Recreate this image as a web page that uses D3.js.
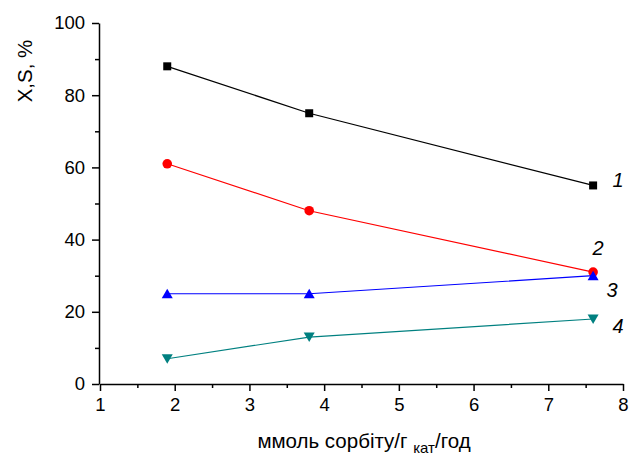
<!DOCTYPE html>
<html>
<head>
<meta charset="utf-8">
<script src="https://d3js.org/d3.v7.min.js"></script>
<style>
body { margin: 0; background: #fff; }
text { font-family: "Liberation Sans", Arial, sans-serif; }
</style>
</head>
<body>
<svg id="chart" width="630" height="455"></svg>
<script>
// data
const xs = [1.9, 3.8, 7.6];
const s1 = [88, 75, 55];
const s2 = [61, 48, 31];
const s3 = [25, 25, 30];
const s4 = [7, 13, 18];
const seriesNames = ["1", "2", "3", "4"];
const xTicks = [1, 2, 3, 4, 5, 6, 7, 8];
const yTicks = [0, 20, 40, 60, 80, 100];

const svg = d3.select("#chart");
const x = d3.scaleLinear().domain([1, 8]).range([100, 623]);
const y = d3.scaleLinear().domain([0, 100]).range([384, 23]);

// minor ticks
svg.append("g").attr("transform", "translate(0,384)")
  .call(d3.axisBottom(x).tickValues(d3.range(1.5, 8, 1)).tickSize(4).tickFormat(""))
  .call(g => g.select(".domain").remove());
svg.append("g").attr("transform", "translate(99,0)")
  .call(d3.axisLeft(y).tickValues(d3.range(10, 100, 20)).tickSize(4).tickFormat(""))
  .call(g => g.select(".domain").remove());

const xa = svg.append("g").attr("transform", "translate(0,384)")
  .call(d3.axisBottom(x).tickValues(xTicks).tickSize(7).tickSizeOuter(0).tickPadding(7).tickFormat(d3.format("d")));
const ya = svg.append("g").attr("transform", "translate(99,0)")
  .call(d3.axisLeft(y).tickValues(yTicks).tickSize(7).tickSizeOuter(0).tickPadding(7).tickFormat(d3.format("d")));
[xa, ya].forEach(a => {
  a.selectAll("text").attr("font-size", 18.5).attr("fill", "#000");
  a.selectAll("line,path").attr("stroke", "#000").attr("stroke-width", 1.5);
});
svg.selectAll(".tick line").attr("stroke", "#000").attr("stroke-width", 1.5);

const series = [
  {vals: s1, color: "#000000", sym: "square"},
  {vals: s2, color: "#ff0000", sym: "circle"},
  {vals: s3, color: "#0000ff", sym: "up"},
  {vals: s4, color: "#008080", sym: "down"}
];

const line = d3.line().x((d, i) => x(xs[i])).y(d => y(d));

series.forEach(s => {
  svg.append("path").attr("d", line(s.vals))
    .attr("fill", "none").attr("stroke", s.color).attr("stroke-width", 1.2);
  const g = svg.append("g");
  s.vals.forEach((v, i) => {
    const cx = x(xs[i]), cy = y(v);
    if (s.sym === "square") {
      g.append("rect").attr("x", cx - 4).attr("y", cy - 4).attr("width", 8).attr("height", 8).attr("fill", s.color);
    } else if (s.sym === "circle") {
      g.append("circle").attr("cx", cx).attr("cy", cy).attr("r", 4.8).attr("fill", s.color);
    } else if (s.sym === "up") {
      g.append("path").attr("d", `M${cx - 5.5},${cy + 4.5}L${cx + 5.5},${cy + 4.5}L${cx},${cy - 5}Z`).attr("fill", s.color);
    } else {
      g.append("path").attr("d", `M${cx - 5.5},${cy - 4.5}L${cx + 5.5},${cy - 4.5}L${cx},${cy + 5}Z`).attr("fill", s.color);
    }
  });
});

// series labels
const labelPos = [[618, 187], [598, 255], [612, 297], [618, 333]];
seriesNames.forEach((n, i) => {
  svg.append("text").attr("x", labelPos[i][0]).attr("y", labelPos[i][1])
    .attr("text-anchor", "middle").attr("font-size", 20).attr("font-style", "italic").text(n);
});

// axis titles
svg.append("text").attr("transform", "translate(32,71) rotate(-90)")
  .attr("text-anchor", "middle").attr("font-size", 20.5).text("X,S, %");

const xt = svg.append("text").attr("x", 364).attr("y", 448).attr("text-anchor", "middle")
  .attr("font-size", 20.5);
xt.append("tspan").text("ммоль сорбіту/г ");
xt.append("tspan").attr("font-size", 15).attr("dy", 5).text("кат");
xt.append("tspan").attr("dy", -5).text("/год");
</script>
</body>
</html>
